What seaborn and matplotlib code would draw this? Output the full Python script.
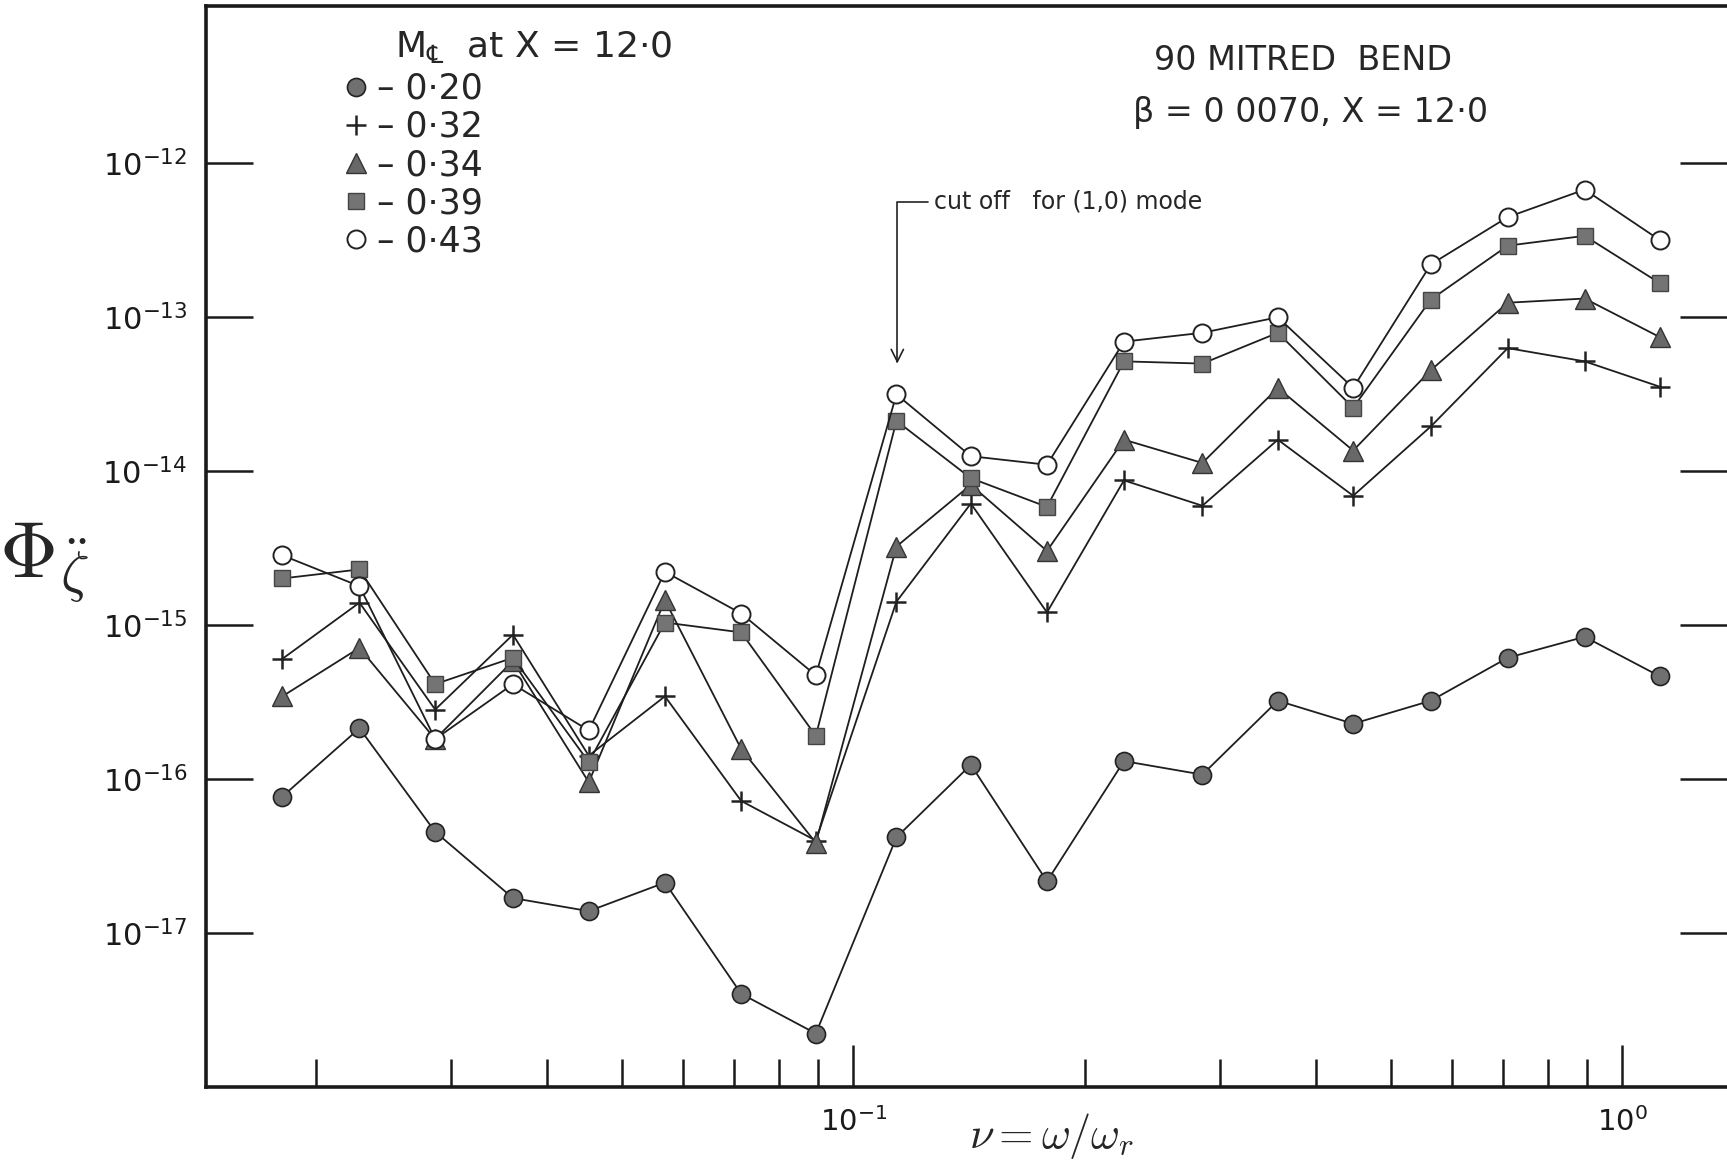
import matplotlib
matplotlib.use("Agg")
from matplotlib import pyplot as plt
from matplotlib.lines import Line2D
from matplotlib.ticker import FixedLocator, NullFormatter, NullLocator, LogLocator
import numpy as np
import pandas as pd
import seaborn as sns

# Frequency parameter nu = omega / omega_r (third-octave band centres)
nu = [0.0181, 0.0228, 0.0286, 0.0361, 0.0453, 0.0569, 0.0715, 0.0894, 0.1138, 0.1422,
      0.1786, 0.2249, 0.2844, 0.3565, 0.4467, 0.5636, 0.7096, 0.8933, 1.119]

# Spectral density at X = 12.0 for each centreline Mach number
phi_020 = [7.71e-17, 2.14e-16, 4.55e-17, 1.69e-17, 1.39e-17, 2.13e-17, 4.04e-18, 2.23e-18, 4.19e-17, 1.24e-16,
           2.17e-17, 1.31e-16, 1.07e-16, 3.23e-16, 2.29e-16, 3.23e-16, 6.14e-16, 8.40e-16, 4.65e-16]
phi_032 = [6.04e-16, 1.40e-15, 2.83e-16, 8.67e-16, 1.42e-16, 3.45e-16, 7.22e-17, 3.99e-17, 1.42e-15, 6.16e-15,
           1.21e-15, 8.71e-15, 5.96e-15, 1.60e-14, 6.92e-15, 1.95e-14, 6.29e-14, 5.16e-14, 3.53e-14]
phi_034 = [3.45e-16, 7.12e-16, 1.82e-16, 5.85e-16, 9.55e-17, 1.45e-15, 1.57e-16, 3.86e-17, 3.24e-15, 8.15e-15,
           3.03e-15, 1.60e-14, 1.13e-14, 3.47e-14, 1.36e-14, 4.52e-14, 1.24e-13, 1.32e-13, 7.41e-14]
phi_039 = [2.01e-15, 2.30e-15, 4.14e-16, 6.14e-16, 1.29e-16, 1.04e-15, 8.97e-16, 1.91e-16, 2.12e-14, 9.00e-15,
           5.86e-15, 5.16e-14, 4.99e-14, 7.91e-14, 2.58e-14, 1.30e-13, 2.91e-13, 3.37e-13, 1.66e-13]
phi_043 = [2.84e-15, 1.79e-15, 1.82e-16, 4.14e-16, 2.07e-16, 2.22e-15, 1.19e-15, 4.72e-16, 3.15e-14, 1.25e-14,
           1.10e-14, 6.93e-14, 7.91e-14, 9.98e-14, 3.47e-14, 2.20e-13, 4.46e-13, 6.73e-13, 3.16e-13]

mach = ["0·20", "0·32", "0·34", "0·39", "0·43"]
y_ticks = [1e-17, 1e-16, 1e-15, 1e-14, 1e-13, 1e-12]
y_tick_labels = ["$10^{-17}$", "$10^{-16}$", "$10^{-15}$", "$10^{-14}$", "$10^{-13}$", "$10^{-12}$"]
x_ticks = [0.1, 1.0]
x_tick_labels = ["$10^{-1}$", "$10^{0}$"]
cutoff_nu = 0.1141

marker_styles = {
    "0·20": dict(marker="o", markersize=13, markerfacecolor="#707070", markeredgecolor="#222222", markeredgewidth=1.2),
    "0·32": dict(marker="+", markersize=15, markerfacecolor="none", markeredgecolor="#222222", markeredgewidth=1.8),
    "0·34": dict(marker="^", markersize=14, markerfacecolor="#686868", markeredgecolor="#333333", markeredgewidth=1.0),
    "0·39": dict(marker="s", markersize=12, markerfacecolor="#747474", markeredgecolor="#444444", markeredgewidth=1.0),
    "0·43": dict(marker="o", markersize=13, markerfacecolor="white", markeredgecolor="#222222", markeredgewidth=1.4),
}


def main():
    sns.set_theme(style="white")
    plt.rcParams["font.family"] = ["DejaVu Sans"]
    plt.rcParams["mathtext.fontset"] = "dejavusans"

    df = pd.DataFrame({
        "nu": nu * 5,
        "phi": phi_020 + phi_032 + phi_034 + phi_039 + phi_043,
        "mach": np.repeat(mach, len(nu)),
    })

    fig = plt.figure(figsize=(17.27, 11.64), dpi=100)
    ax = fig.add_axes([0.119, 0.066, 0.881, 0.929])
    ax.set_xscale("log")
    ax.set_yscale("log")

    for m in mach:
        sub = df[df["mach"] == m]
        sns.lineplot(data=sub, x="nu", y="phi", ax=ax, color="#1e1e1e", linewidth=1.3,
                     errorbar=None, sort=False, **marker_styles[m])

    ax.set_xlim(0.01438, 1.368)
    ax.set_ylim(1e-18, 1.05e-11)

    # Axes, ticks
    for side in ["left", "bottom", "top"]:
        ax.spines[side].set_linewidth(2.6)
        ax.spines[side].set_color("#1a1a1a")
    ax.spines["right"].set_visible(False)

    ax.yaxis.set_major_locator(FixedLocator(y_ticks))
    ax.set_yticklabels(y_tick_labels)
    ax.yaxis.set_minor_locator(NullLocator())
    ax.xaxis.set_major_locator(FixedLocator(x_ticks))
    ax.set_xticklabels(x_tick_labels)
    ax.xaxis.set_minor_locator(LogLocator(base=10, subs=np.arange(2, 10)))
    ax.xaxis.set_minor_formatter(NullFormatter())

    ax.tick_params(axis="y", which="major", direction="in", length=34, width=1.8, left=True, right=True,
                   labelsize=22, pad=13, colors="#1a1a1a")
    ax.tick_params(axis="x", which="major", direction="in", length=30, width=1.8, bottom=True, top=False,
                   labelsize=21, pad=14, colors="#1a1a1a")
    ax.tick_params(axis="x", which="minor", direction="in", length=20, width=1.8, bottom=True, top=False,
                   colors="#1a1a1a")

    ax.set_xlabel(r"$\nu = \omega/\omega_r$", fontsize=32, math_fontfamily="cm")
    ax.xaxis.set_label_coords(0.556, -0.022)
    ax.set_ylabel(r"$\Phi_{\ddot{\zeta}}$", fontsize=58, rotation=0, ha="center", va="center",
                  math_fontfamily="cm")
    ax.yaxis.set_label_coords(-0.106, 0.485)

    # Legend
    handles = [Line2D([], [], linestyle="none", **marker_styles[m]) for m in mach]
    ax.text(0.216, 0.962, "M$_{℄}$  at X = 12·0", transform=ax.transAxes, fontsize=26,
            ha="center", va="center")
    ax.legend(handles, ["– " + m for m in mach], loc="upper left", bbox_to_anchor=(0.091, 0.939),
              frameon=False, fontsize=25, handlelength=0.7, handletextpad=0.25, labelspacing=0.12,
              borderpad=0, borderaxespad=0)

    # Annotations
    ax.text(0.7215, 0.949, "90 MITRED  BEND", transform=ax.transAxes, fontsize=24, ha="center", va="center")
    ax.text(0.726, 0.901, "β = 0 0070, X = 12·0", transform=ax.transAxes, fontsize=24, ha="center", va="center")
    ax.annotate("cut off   for (1,0) mode", xy=(cutoff_nu, 5.0e-14), xytext=(0.1272, 5.62e-13),
                fontsize=17, ha="left", va="center",
                arrowprops=dict(arrowstyle="->", color="#222222", lw=1.2, shrinkA=2, shrinkB=0,
                                connectionstyle="angle,angleA=0,angleB=90,rad=0", mutation_scale=22))

    fig.savefig("out.png", dpi=100, facecolor="white")


if __name__ == "__main__":
    main()
